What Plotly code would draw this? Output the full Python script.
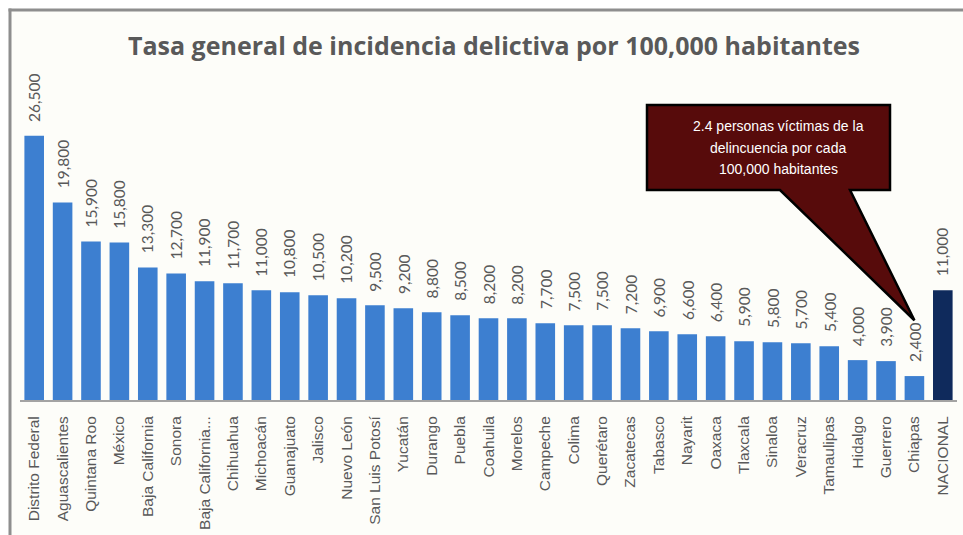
import plotly.graph_objects as go

# Crime incidence rate per 100,000 inhabitants, by state plus the national figure
states = [
    "Distrito Federal", "Aguascalientes", "Quintana Roo", "México", "Baja California",
    "Sonora", "Baja California...", "Chihuahua", "Michoacán", "Guanajuato", "Jalisco",
    "Nuevo León", "San Luis Potosí", "Yucatán", "Durango", "Puebla", "Coahuila",
    "Morelos", "Campeche", "Colima", "Querétaro", "Zacatecas", "Tabasco", "Nayarit",
    "Oaxaca", "Tlaxcala", "Sinaloa", "Veracruz", "Tamaulipas", "Hidalgo", "Guerrero",
    "Chiapas", "NACIONAL",
]
rates = [
    26500, 19800, 15900, 15800, 13300, 12700, 11900, 11700, 11000, 10800, 10500,
    10200, 9500, 9200, 8800, 8500, 8200, 8200, 7700, 7500, 7500, 7200, 6900, 6600,
    6400, 5900, 5800, 5700, 5400, 4000, 3900, 2400, 11000,
]
title_text = "Tasa general de incidencia delictiva por 100,000 habitantes"
callout_lines = ["2.4 personas víctimas de la", "delincuencia por cada", "100,000 habitantes"]
callout_target = "Chiapas"

# Layout geometry (pixels)
W, H = 963, 535
ML, MR, MT, MB = 20, 6, 65, 135
PW, PH = W - ML - MR, H - MT - MB
YMAX = 33600

STATE_BLUE = "#3d7fd0"
NATIONAL_NAVY = "#0f2a5c"
TEXT_GRAY = "#595959"


def pxx(px):
    return (px - ML) / PW


def pxy(py):
    return (H - MB - py) / PH


colors = [NATIONAL_NAVY if s == "NACIONAL" else STATE_BLUE for s in states]

fig = go.Figure(
    go.Bar(
        x=states,
        y=rates,
        marker=dict(color=colors, line=dict(width=0)),
        hoverinfo="x+y",
    )
)

# value labels above each bar, rotated
annotations = []
for s, v in zip(states, rates):
    annotations.append(dict(
        x=s, y=v, xref="x", yref="y",
        text=f"{v:,}", textangle=-90, showarrow=False,
        xanchor="center", yanchor="bottom", yshift=12,
        font=dict(family="Lato", size=15.5, color=TEXT_GRAY),
    ))

# callout text
for line, py in zip(callout_lines, [126, 147.5, 169]):
    annotations.append(dict(
        x=pxx(778), y=pxy(py), xref="paper", yref="paper",
        text=line, showarrow=False, xanchor="center", yanchor="middle",
        font=dict(family="Liberation Sans", size=14, color="white"),
    ))

# callout balloon pointing at the target bar
idx = states.index(callout_target)
tip_x = (idx + 0.5) / len(states)
tip_y = (rates[idx] + 5600) / YMAX
bx0, bx1 = pxx(647), pxx(890)
by0, by1 = pxy(105), pxy(190)
base_l, base_r = pxx(780), pxx(850)
callout_path = (
    f"M{bx0},{by0} L{bx1},{by0} L{bx1},{by1} L{base_r},{by1} "
    f"L{tip_x},{tip_y} L{base_l},{by1} L{bx0},{by1} Z"
)

shapes = [
    # panel background and frame
    dict(type="rect", xref="paper", yref="paper", layer="below",
         x0=pxx(10), x1=pxx(W + 5), y0=pxy(10), y1=pxy(H + 5),
         fillcolor="#fdfdf9", line=dict(width=0)),
    dict(type="line", xref="paper", yref="paper",
         x0=pxx(8.5), x1=pxx(W + 5), y0=pxy(10), y1=pxy(10),
         line=dict(color="#8e8e8e", width=3)),
    dict(type="line", xref="paper", yref="paper",
         x0=pxx(10), x1=pxx(10), y0=pxy(8.5), y1=pxy(H + 5),
         line=dict(color="#8e8e8e", width=3)),
    dict(type="path", xref="paper", yref="paper", path=callout_path,
         fillcolor="#570b0b", line=dict(color="black", width=2.5)),
]

fig.update_layout(
    width=W, height=H,
    margin=dict(l=ML, r=MR, t=MT, b=MB, pad=0),
    paper_bgcolor="white",
    plot_bgcolor="rgba(0,0,0,0)",
    showlegend=False,
    bargap=0.31,
    title=dict(
        text=f"<b>{title_text}</b>",
        x=494 / W, xanchor="center",
        y=1 - 46 / H, yanchor="middle",
        font=dict(family="Open Sans", size=25, color=TEXT_GRAY),
    ),
    xaxis=dict(
        type="category",
        tickangle=-90,
        ticks="",
        showgrid=False,
        showline=True,
        linecolor="#a3a3a3",
        linewidth=2,
        automargin=False,
        ticklabelstandoff=8,
        tickfont=dict(family="Liberation Sans", size=15.5, color=TEXT_GRAY),
    ),
    yaxis=dict(visible=False, range=[0, YMAX], fixedrange=True),
    annotations=annotations,
    shapes=shapes,
)

fig.write_html("out.html")
